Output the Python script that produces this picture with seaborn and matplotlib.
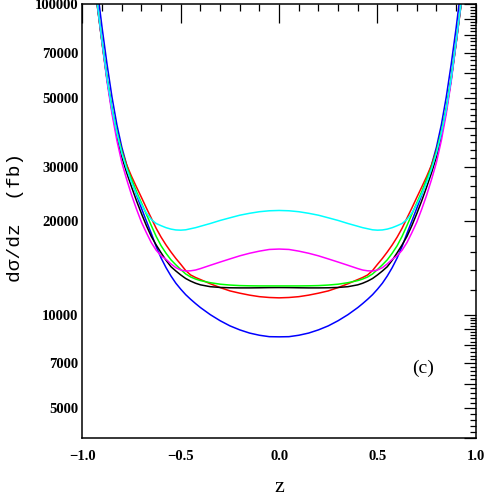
import numpy as np
import pandas as pd
import matplotlib
matplotlib.use("Agg")
import matplotlib.pyplot as plt
import matplotlib.ticker as mticker
import seaborn as sns

z = [-0.95, -0.925, -0.90, -0.875, -0.85, -0.825, -0.80, -0.775, -0.75, -0.725,
     -0.70, -0.675, -0.65, -0.625, -0.60, -0.575, -0.55, -0.525, -0.50, -0.475,
     -0.45, -0.425, -0.40, -0.35, -0.30, -0.25, -0.20, -0.15, -0.10, -0.05,
     0.00,
     0.05, 0.10, 0.15, 0.20, 0.25, 0.30, 0.35, 0.40, 0.425, 0.45,
     0.475, 0.50, 0.525, 0.55, 0.575, 0.60, 0.625, 0.65, 0.675, 0.70,
     0.725, 0.75, 0.775, 0.80, 0.825, 0.85, 0.875, 0.90, 0.925, 0.95]

blue = [155800, 112900, 84000, 64200, 50400, 41000, 34700, 30400, 27100, 24350,
        22060, 20070, 18300, 16600, 15250, 14200, 13350, 12650, 12100, 11620,
        11230, 10880, 10560, 10020, 9580, 9220, 8950, 8740, 8600, 8510,
        8500,
        8510, 8600, 8740, 8950, 9220, 9580, 10020, 10560, 10880, 11230,
        11620, 12100, 12650, 13350, 14200, 15250, 16600, 18300, 20070, 22060,
        24350, 27100, 30400, 34700, 41000, 50400, 64200, 84000, 112900, 155800]

red = [142000, 100500, 75500, 57600, 46000, 38700, 33800, 30400, 27900, 25800,
       23900, 22100, 20500, 19000, 17800, 16800, 15950, 15200, 14550, 13900,
       13450, 13200, 13000, 12600, 12250, 11950, 11750, 11580, 11450, 11380,
       11350,
       11380, 11450, 11580, 11750, 11950, 12250, 12600, 13000, 13200, 13450,
       13900, 14550, 15200, 15950, 16800, 17800, 19000, 20500, 22100, 23900,
       25800, 27900, 30400, 33800, 38700, 46000, 57600, 75500, 100500, 142000]

black = [140000, 99500, 75000, 57300, 45500, 37700, 32300, 28700, 25800, 23300,
         21200, 19400, 17900, 16800, 15850, 15000, 14300, 13850, 13450, 13100,
         12850, 12650, 12500, 12330, 12260, 12230, 12220, 12220, 12230, 12245,
         12250,
         12245, 12230, 12220, 12220, 12230, 12260, 12330, 12500, 12650, 12850,
         13100, 13450, 13850, 14300, 15000, 15850, 16800, 17900, 19400, 21200,
         23300, 25800, 28700, 32300, 37700, 45500, 57300, 75000, 99500, 140000]

green = [143000, 101500, 76000, 58000, 46300, 38900, 33600, 29900, 27340, 24930,
         22950, 21100, 19400, 17900, 16700, 15800, 15050, 14500, 14000, 13550,
         13250, 13050, 12900, 12700, 12560, 12480, 12430, 12410, 12400, 12400,
         12400,
         12400, 12400, 12410, 12430, 12480, 12560, 12700, 12900, 13050, 13250,
         13550, 14000, 14500, 15050, 15800, 16700, 17900, 19400, 21100, 22950,
         24930, 27340, 29900, 33600, 38900, 46300, 58000, 76000, 101500, 143000]

magenta = [142000, 101000, 75000, 56500, 44500, 36500, 31000, 27300, 24300, 21900,
           19900, 18400, 17100, 16150, 15500, 15100, 14600, 14200, 13950, 13850,
           13870, 13950, 14100, 14450, 14800, 15150, 15500, 15800, 16050, 16250,
           16300,
           16250, 16050, 15800, 15500, 15150, 14800, 14450, 14100, 13950, 13870,
           13850, 13950, 14200, 14600, 15100, 15500, 16150, 17100, 18400, 19900,
           21900, 24300, 27300, 31000, 36500, 44500, 56500, 75000, 101000, 142000]

cyan = [143000, 101000, 75800, 57700, 46000, 38500, 33200, 29500, 26700, 24500,
        22700, 21300, 20300, 19700, 19380, 19100, 18900, 18780, 18750, 18800,
        18950, 19100, 19300, 19700, 20150, 20550, 20950, 21250, 21500, 21650,
        21700,
        21650, 21500, 21250, 20950, 20550, 20150, 19700, 19300, 19100, 18950,
        18800, 18750, 18780, 18900, 19100, 19380, 19700, 20300, 21300, 22700,
        24500, 26700, 29500, 33200, 38500, 46000, 57700, 75800, 101000, 143000]

series = {"blue": blue, "red": red, "black": black,
          "green": green, "magenta": magenta, "cyan": cyan}
palette = {"blue": "#0000ff", "red": "#ff0000", "black": "#000000",
           "green": "#00ff00", "magenta": "#ff00ff", "cyan": "#00ffff"}

ytick_labels = [5000, 7000, 10000, 20000, 30000, 50000, 70000, 100000]
xtick_labels = [-1.0, -0.5, 0.0, 0.5, 1.0]

df = pd.concat([pd.DataFrame({"z": z, "v": vals, "curve": name})
                for name, vals in series.items()], ignore_index=True)

sns.set_theme(style="white")
plt.rcParams["font.family"] = ["Liberation Serif", "DejaVu Serif"]
plt.rcParams["text.color"] = "black"
plt.rcParams["xtick.color"] = "black"
plt.rcParams["ytick.color"] = "black"
plt.rcParams["axes.labelcolor"] = "black"

fig = plt.figure(figsize=(4.85, 4.96), dpi=100)
ax = fig.add_axes([0.170, 0.116, 0.811, 0.875])

sns.lineplot(data=df, x="z", y="v", hue="curve", palette=palette,
             legend=False, sort=False, estimator=None, linewidth=1.1, ax=ax)

ax.set_yscale("log")
ax.set_xlim(-1.0, 1.0)
ax.set_ylim(4000, 100000)

# y ticks
major_y = list(range(4000, 10000, 1000)) + list(range(10000, 100001, 10000))
minor_y = [v for v in list(range(4000, 10000, 200)) + list(range(10000, 100000, 2000))
           if v not in major_y]
ax.yaxis.set_major_locator(mticker.FixedLocator(major_y))
ax.yaxis.set_minor_locator(mticker.FixedLocator(minor_y))
ax.yaxis.set_major_formatter(mticker.FuncFormatter(
    lambda v, p: f"{int(round(v))}" if int(round(v)) in ytick_labels else ""))
ax.yaxis.set_minor_formatter(mticker.NullFormatter())

# x ticks
ax.xaxis.set_major_locator(mticker.FixedLocator(xtick_labels))
ax.xaxis.set_minor_locator(mticker.MultipleLocator(0.1))
ax.xaxis.set_major_formatter(mticker.FuncFormatter(
    lambda v, p: f"{v:.1f}".replace("-", "\u2212")))

for s in ax.spines.values():
    s.set_color("black")
    s.set_linewidth(1.1)

ax.tick_params(axis="both", which="both", direction="in", top=True, right=True,
               color="black", width=0.9)
ax.tick_params(axis="y", which="major", length=8.5, labelsize=10.5, pad=3)
ax.tick_params(axis="y", which="minor", length=4.5)
ax.tick_params(axis="x", which="major", length=14, labelsize=10.5, pad=8)
ax.tick_params(axis="x", which="minor", length=5)
for lab in ax.get_xticklabels() + ax.get_yticklabels():
    lab.set_fontweight("bold")

ax.set_xlabel("z", fontsize=16)
ax.xaxis.set_label_coords(0.5, -0.114)
ax.xaxis.label.set_va("center")
ax.set_ylabel("d\u03c3/dz  (fb)", fontsize=14,
              family=["Liberation Mono", "DejaVu Sans Mono"])
ax.yaxis.set_label_coords(-0.170, 0.51)
ax.yaxis.label.set_va("center")

ax.text(0.865, 0.162, "(c)", transform=ax.transAxes, fontsize=14,
        ha="center", va="center")

ax.grid(False)
fig.savefig("out.png", dpi=100)
